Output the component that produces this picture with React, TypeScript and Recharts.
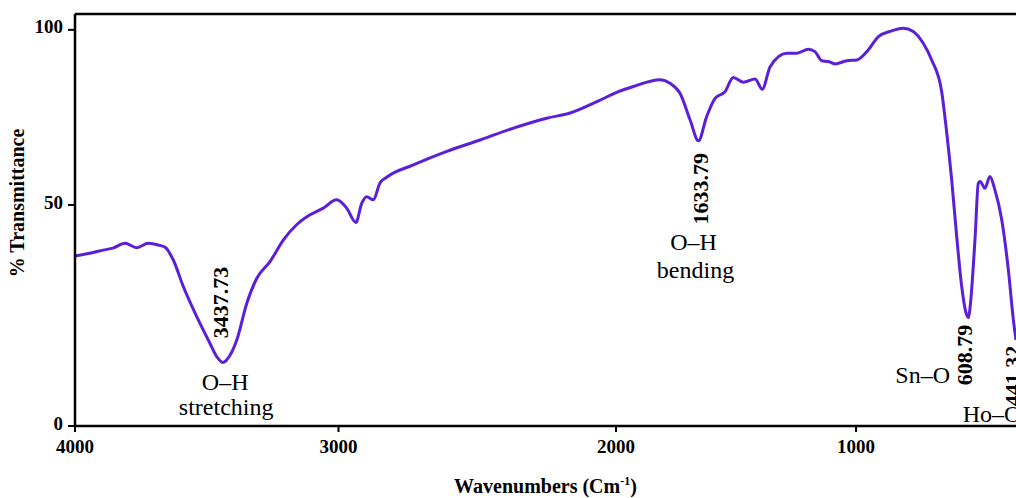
import { LineChart, Line, XAxis, YAxis, ReferenceLine, ReferenceDot } from "recharts";

// FTIR spectrum (wavenumber descending, % transmittance)
const WAVENUMBERS = [
  4000, 3931, 3893, 3856, 3810, 3766, 3722, 3684, 3658, 3627, 3589, 3538, 3488, 3460, 3438, 3424,
  3386, 3348, 3310, 3260, 3209, 3159, 3108, 3058, 3007, 2969, 2934, 2912, 2893, 2868, 2843, 2817,
  2716, 2589, 2463, 2336, 2210, 2121, 2015, 1938, 1881, 1780, 1742, 1704, 1666, 1634, 1603, 1571,
  1533, 1502, 1464, 1419, 1392, 1362, 1299, 1261, 1217, 1192, 1166, 1141, 1116, 1071, 1033, 995,
  951, 907, 857, 819, 781, 749, 711, 693, 673, 654, 635, 618, 609, 603, 584, 572, 565, 547, 528,
  509, 483, 458, 439, 429,
];
const TRANSMITTANCE = [
  42.9, 43.8, 44.4, 44.9, 46.1, 45.0, 46.1, 45.7, 45.1, 41.9, 35.2, 27.6, 20.9, 17.3, 16.0, 16.7,
  21.7, 31.0, 37.3, 41.5, 47.0, 50.8, 53.3, 55.0, 57.1, 55.0, 51.4, 56.2, 57.9, 57.1, 61.3, 62.8,
  65.9, 69.3, 72.2, 75.2, 77.7, 79.0, 82.0, 84.4, 85.7, 87.4, 86.5, 84.0, 77.3, 72.0, 78.1, 82.7,
  84.4, 88.0, 86.8, 87.6, 85.0, 90.7, 94.1, 94.1, 95.1, 94.5, 92.2, 92.0, 91.4, 92.2, 92.4, 94.5,
  98.3, 99.6, 100.4, 99.6, 96.6, 92.4, 84.4, 74.7, 62.1, 47.8, 35.2, 28.4, 27.4, 30.1, 47.8, 61.3,
  61.7, 60.0, 63.0, 59.6, 52.0, 39.4, 26.8, 21.7,
];

const PEAK_WAVENUMBERS = [3437.73, 1633.79, 608.79, 441.32];
const PEAK_TRANSMITTANCE = [16.0, 72.0, 27.4, 27.0];
const PEAK_LABELS = ["3437.73", "1633.79", "608.79", "441.32"];
const BOND_LABELS = [["O–H", "stretching"], ["O–H", "bending"], ["Sn–O"], ["Ho–O"]];

// tick labels sit where the original figure drew them
const X_TICK_POSITIONS = [4000, 3000, 1947, 1036];
const X_TICK_LABELS = ["4000", "3000", "2000", "1000"];
const Y_TICK_POSITIONS = [0, 55.8, 100];
const Y_TICK_LABELS = ["0", "50", "100"];

const data = WAVENUMBERS.map((w, i) => ({ wavenumber: w, t: TRANSMITTANCE[i] }));

const FONT = '"Liberation Serif", "Times New Roman", serif';
const LINE_COLOR = "#5a1fd6";

const ANNOTATION_LAYOUT = [
  { num: { dx: -3, dy: -60 }, bond: [{ dx: 2, dy: 27, anchor: "middle" }, { dx: 3, dy: 52, anchor: "middle" }] },
  { num: { dx: 1.5, dy: 48 }, bond: [{ dx: -5, dy: 109, anchor: "middle" }, { dx: -3, dy: 137, anchor: "middle" }] },
  { num: { dx: -4.6, dy: 37.5 }, bond: [{ dx: -18.6, dy: 65.5, anchor: "end" }] },
  { num: { dx: 0, dy: 57 }, bond: [{ dx: -50, dy: 103, anchor: "start" }] },
];

const XTick = (props: any) => {
  const { x, y, payload } = props;
  const idx = X_TICK_POSITIONS.indexOf(payload.value);
  return (
    <text x={x} y={y} dy="0.71em" textAnchor="middle" fontFamily={FONT} fontWeight="bold" fontSize={19} fill="#000">
      {X_TICK_LABELS[idx]}
    </text>
  );
};

const YTick = (props: any) => {
  const { x, y, payload } = props;
  const idx = Y_TICK_POSITIONS.indexOf(payload.value);
  return (
    <text x={x} y={y - 3} dy="0.35em" textAnchor="end" fontFamily={FONT} fontWeight="bold" fontSize={19} fill="#000">
      {Y_TICK_LABELS[idx]}
    </text>
  );
};

const makePeakShape = (i: number) => (props: any) => {
  const { cx, cy } = props;
  const lay = ANNOTATION_LAYOUT[i];
  return (
    <g>
      <text
        transform={`translate(${cx + lay.num.dx},${cy + lay.num.dy}) rotate(-90)`}
        textAnchor="middle"
        dominantBaseline="central"
        fontFamily={FONT}
        fontWeight="bold"
        fontSize={22}
        fill="#000"
      >
        {PEAK_LABELS[i]}
      </text>
      {BOND_LABELS[i].map((txt, j) => (
        <text
          key={j}
          x={cx + lay.bond[j].dx}
          y={cy + lay.bond[j].dy}
          textAnchor={lay.bond[j].anchor as any}
          fontFamily={FONT}
          fontSize={24}
          fill="#000"
        >
          {txt}
        </text>
      ))}
    </g>
  );
};

export default function App() {
  return (
    <div style={{ position: "absolute", left: 0, top: 0, width: 1016, height: 498, background: "#fff" }}>
      <LineChart width={1016} height={498} data={data} margin={{ top: 14, right: 0, bottom: 0, left: 0 }}>
        <XAxis
          dataKey="wavenumber"
          type="number"
          domain={[429, 4000]}
          reversed
          allowDataOverflow
          ticks={X_TICK_POSITIONS}
          interval={0}
          height={72}
          axisLine={{ stroke: "#000", strokeWidth: 2.5 }}
          tickLine={{ stroke: "#000", strokeWidth: 2 }}
          tickSize={6}
          tickMargin={8}
          tick={<XTick />}
          label={{
            content: (p: any) => {
              const vb = p.viewBox;
              return (
                <text x={vb.x + vb.width / 2} y={493} textAnchor="middle" fontFamily={FONT} fontWeight="bold" fontSize={20} fill="#000">
                  Wavenumbers (Cm
                  <tspan fontSize={12} dy={-8}>-1</tspan>
                  <tspan dy={8}>)</tspan>
                </text>
              );
            },
          }}
        />
        <YAxis
          type="number"
          domain={[0, 104]}
          allowDataOverflow
          ticks={Y_TICK_POSITIONS}
          interval={0}
          width={75}
          axisLine={{ stroke: "#000", strokeWidth: 2.5 }}
          tickLine={{ stroke: "#000", strokeWidth: 2 }}
          tickSize={7}
          tickMargin={5}
          tick={<YTick />}
          label={{
            content: () => (
              <text
                transform="translate(24,203) rotate(-90)"
                textAnchor="middle"
                fontFamily={FONT}
                fontWeight="bold"
                fontSize={20}
                fill="#000"
              >
                % Transmittance
              </text>
            ),
          }}
        />
        <ReferenceLine y={104} stroke="#000" strokeWidth={2.5} />
        <Line
          type="monotone"
          dataKey="t"
          stroke={LINE_COLOR}
          strokeWidth={3}
          dot={false}
          isAnimationActive={false}
        />
        {PEAK_WAVENUMBERS.map((w, i) => (
          <ReferenceDot key={i} x={w} y={PEAK_TRANSMITTANCE[i]} r={0} shape={makePeakShape(i)} />
        ))}
      </LineChart>
    </div>
  );
}
